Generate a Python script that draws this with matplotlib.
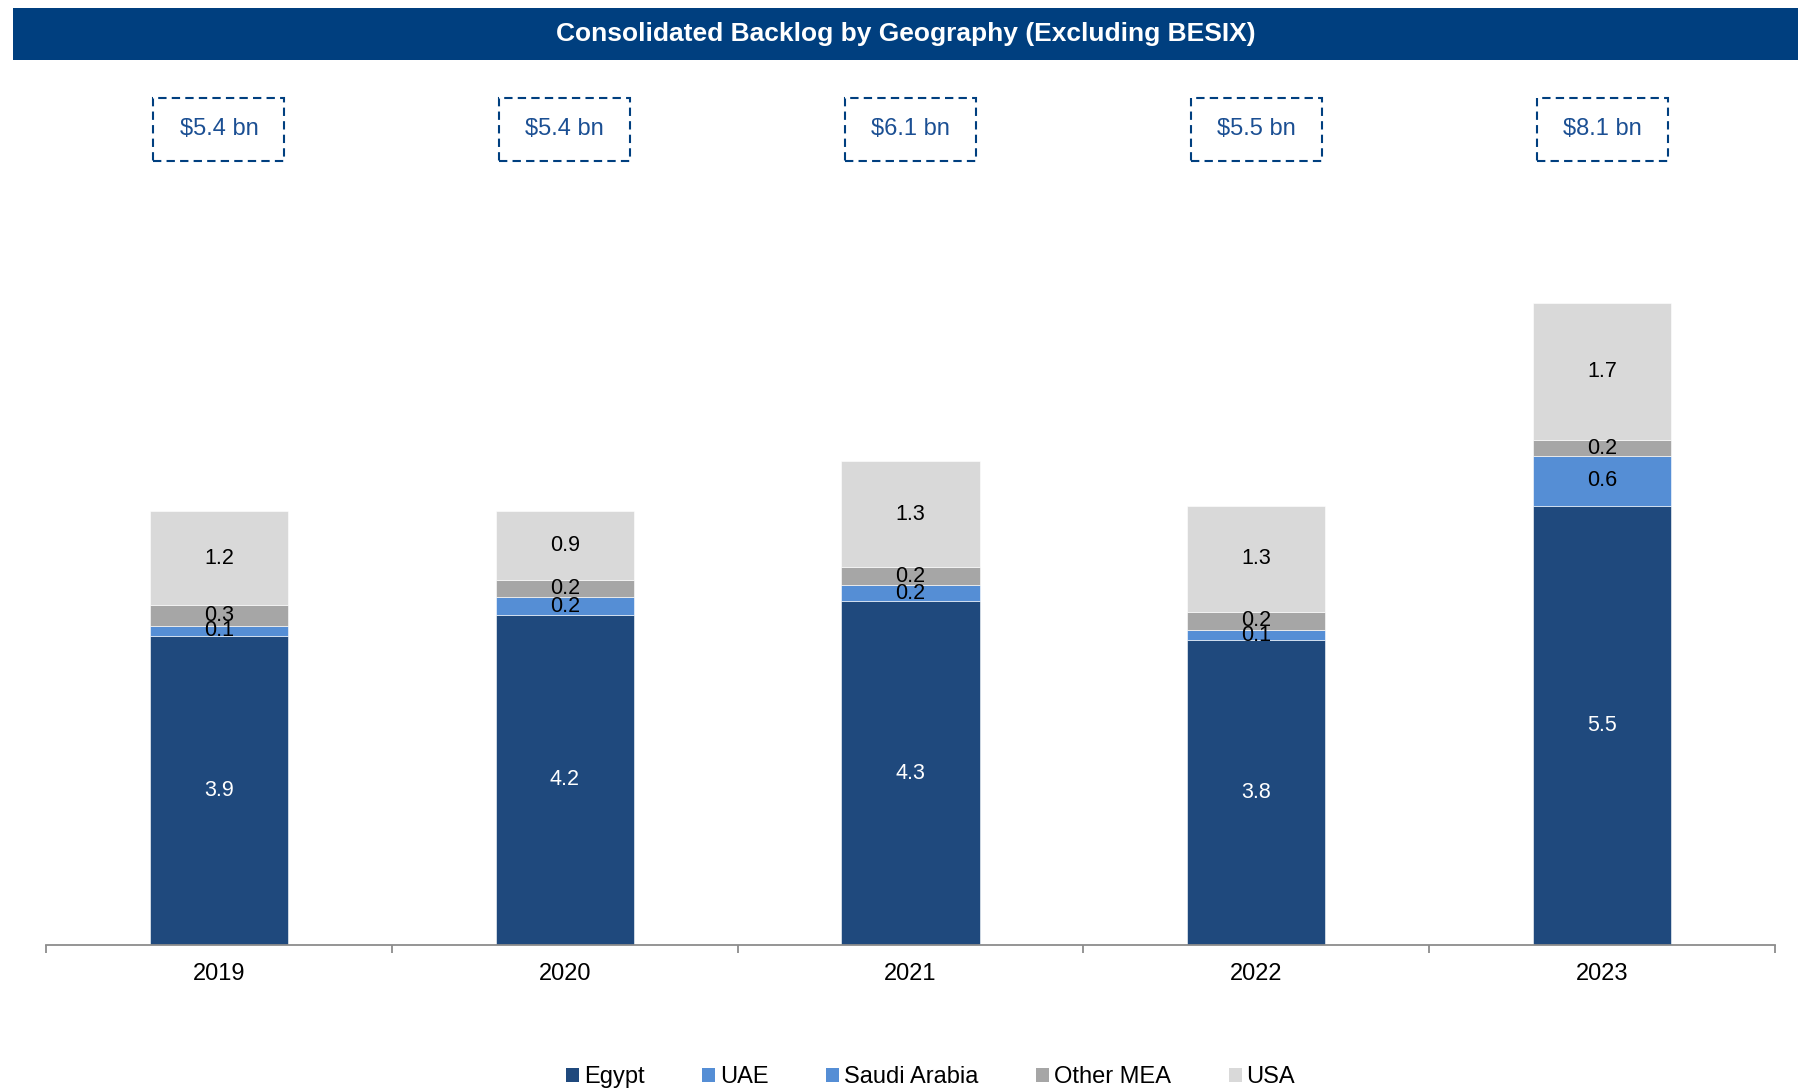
import matplotlib
matplotlib.use("Agg")
import matplotlib.pyplot as plt
from matplotlib.patches import Patch, Rectangle
from matplotlib.transforms import blended_transform_factory
import numpy as np

plt.rcParams["font.family"] = ["Liberation Sans", "DejaVu Sans"]

YEARS = ["2019", "2020", "2021", "2022", "2023"]
SERIES = ["Egypt", "UAE", "Saudi Arabia", "Other MEA", "USA"]
EGYPT = [3.90, 4.17, 4.34, 3.849, 5.54]
UAE = [0.13, 0.22, 0.20, 0.13, 0.64]
SAUDI_ARABIA = [0.0, 0.0, 0.0, 0.0, 0.0]
OTHER_MEA = [0.26, 0.22, 0.23, 0.23, 0.19]
USA = [1.19, 0.87, 1.34, 1.33, 1.74]
TOTALS = [5.4, 5.4, 6.1, 5.5, 8.1]

COLORS = ["#1F497D", "#558ED5", "#558ED5", "#A6A6A6", "#D9D9D9"]
LABEL_COLORS = ["white", "black", "black", "black", "black"]
NAVY = "#003F7F"

fig = plt.figure(figsize=(18, 10.91), dpi=100)
W, H = 1800, 1091

# title bar
fig.patches.append(Rectangle((13 / W, 1 - 60 / H), (1798 - 13) / W, 52 / H,
                             transform=fig.transFigure, facecolor=NAVY, edgecolor="none"))
fig.text(0.5 * (13 + 1798) / W, 1 - 34 / H, "Consolidated Backlog by Geography (Excluding BESIX)",
         color="white", fontsize=19, fontweight="bold", ha="center", va="center")

ax = fig.add_axes([46 / W, 1 - 945 / H, (1775 - 46) / W, 792 / H])
x = np.arange(len(YEARS))
width = 0.4
bottom = np.zeros(len(YEARS))
for values, color, lc in zip([EGYPT, UAE, SAUDI_ARABIA, OTHER_MEA, USA], COLORS, LABEL_COLORS):
    vals = np.array(values)
    ax.bar(x, vals, width, bottom=bottom, color=color, edgecolor="white", linewidth=0.4)
    for xi, b, v in zip(x, bottom, vals):
        if v > 0:
            ax.text(xi, b + v / 2, f"{v:.1f}", ha="center", va="center", fontsize=15.5, color=lc)
    bottom += vals

ax.set_xlim(-0.5, len(YEARS) - 0.5)
ax.set_ylim(0, 10)
for s in ["top", "right", "left"]:
    ax.spines[s].set_visible(False)
ax.spines["bottom"].set_color("#8C8C8C")
ax.spines["bottom"].set_linewidth(1.3)
ax.set_yticks([])
ax.set_xticks(np.arange(len(YEARS) + 1) - 0.5)
ax.set_xticklabels([])
ax.tick_params(axis="x", which="major", length=6, width=1.3, color="#8C8C8C")
ax.set_xticks(x, minor=True)
ax.set_xticklabels(YEARS, minor=True, fontsize=17)
ax.tick_params(axis="x", which="minor", length=0, pad=13)

# total boxes
trans = blended_transform_factory(ax.transData, fig.transFigure)
box_w = 0.379
box_h = 63 / H
box_y = 1 - 129.5 / H
for xi, total in zip(x, TOTALS):
    ax.add_patch(Rectangle((xi - box_w / 2, box_y - box_h / 2), box_w, box_h, transform=trans,
                           facecolor="none", edgecolor=NAVY, linewidth=1.5,
                           linestyle=(0, (4, 2.5)), clip_on=False))
    ax.text(xi, box_y, f"${total:.1f} bn", transform=trans, ha="center", va="center",
            fontsize=17, color="#1B4F93")

handles = [Patch(facecolor=c, edgecolor="none", label=s) for c, s in zip(COLORS, SERIES)]
fig.legend(handles=handles, loc="center", bbox_to_anchor=(0.517, 1 - 1077 / H), ncol=5,
           frameon=False, fontsize=17, handlelength=0.55, handleheight=0.55,
           handletextpad=0.2, columnspacing=2.45, borderaxespad=0)

fig.savefig("out.png", dpi=100)
